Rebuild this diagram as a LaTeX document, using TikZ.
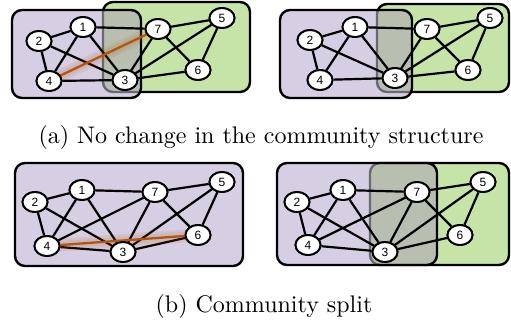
\documentclass[tikz,border=0pt]{standalone}
\usepackage{fontspec}
\newfontfamily\nodefont{Liberation Sans}
\usetikzlibrary{shapes.geometric}
\definecolor{purp}{RGB}{214,206,227}
\definecolor{grn}{RGB}{199,228,168}
\definecolor{ovl}{RGB}{184,191,177}
\definecolor{orng}{RGB}{176,86,18}
\definecolor{hidln}{RGB}{105,105,112}
\begin{document}
\begin{tikzpicture}[x=1pt,y=-1pt,
  vtx/.style={ellipse, draw, line width=1.9pt, fill=white, minimum width=25pt, minimum height=20pt, inner sep=0pt, font=\nodefont\fontsize{12}{12}\selectfont},
  edge/.style={line width=2.2pt},
  boxline/.style={line width=2.4pt, rounded corners=10pt},
  hot/.style={line width=2.3pt, draw=orng},
  glow/.style={line width=#1, draw=orng, opacity=0.10, line cap=round},
  caption/.style={scale=2.4, font=\fontsize{10}{12}\selectfont}]
\useasboundingbox (0,0) rectangle (511,325);

% ---------- (a) left ----------
\filldraw[boxline, fill=grn] (103,2) rectangle (250,92);
\fill[rounded corners=10pt, purp] (12,10) rectangle (141,98);
\begin{scope}
  \clip[rounded corners=10pt] (12,10) rectangle (141,98);
  \fill[rounded corners=10pt, ovl] (103,2) rectangle (250,92);
  \draw[boxline, draw=hidln] (103,2) rectangle (250,92);
\end{scope}
\draw[boxline] (12,10) rectangle (141,98);

\node[vtx] (a1) at (83,27) {1};
\node[vtx] (a2) at (39,41) {2};
\node[vtx] (a4) at (49,81) {4};
\node[vtx] (a3) at (125,80) {3};
\node[vtx] (a7) at (158,29) {7};
\node[vtx] (a5) at (222,18) {5};
\node[vtx] (a6) at (198,70) {6};

% ---------- (a) right ----------
\filldraw[boxline, fill=grn] (377,4) rectangle (509,92);
\fill[rounded corners=10pt, purp] (280,10) rectangle (412,98);
\begin{scope}
  \clip[rounded corners=10pt] (280,10) rectangle (412,98);
  \fill[rounded corners=10pt, ovl] (377,4) rectangle (509,92);
  \draw[boxline, draw=hidln] (377,4) rectangle (509,92);
\end{scope}
\draw[boxline] (280,10) rectangle (412,98);

\node[vtx] (b1) at (355,27) {1};
\node[vtx] (b2) at (310,40) {2};
\node[vtx] (b4) at (320,80) {4};
\node[vtx] (b3) at (395,78) {3};
\node[vtx] (b7) at (427,29) {7};
\node[vtx] (b5) at (490,18) {5};
\node[vtx] (b6) at (468,70) {6};

% ---------- (b) left ----------
\filldraw[boxline, fill=purp] (15,163) rectangle (243,266);

\node[vtx] (c1) at (82,190) {1};
\node[vtx] (c2) at (35,202) {2};
\node[vtx] (c4) at (47,246) {4};
\node[vtx] (c3) at (123,252) {3};
\node[vtx] (c7) at (155,192) {7};
\node[vtx] (c5) at (222,182) {5};
\node[vtx] (c6) at (198,235) {6};

% ---------- (b) right ----------
\filldraw[boxline, fill=grn] (370,163) rectangle (509,265);
\fill[rounded corners=10pt, purp] (277,163) rectangle (437,265);
\begin{scope}
  \clip[rounded corners=10pt] (277,163) rectangle (437,265);
  \fill[rounded corners=10pt, ovl] (370,163) rectangle (509,265);
  \draw[boxline, draw=hidln] (370,163) rectangle (509,265);
\end{scope}
\draw[boxline] (277,163) rectangle (437,265);

\node[vtx] (d1) at (343,190) {1};
\node[vtx] (d2) at (297,202) {2};
\node[vtx] (d4) at (308,245) {4};
\node[vtx] (d3) at (385,252) {3};
\node[vtx] (d7) at (417,192) {7};
\node[vtx] (d5) at (483,182) {5};
\node[vtx] (d6) at (460,235) {6};

% ---------- edges ----------
\foreach \p in {a,b,c,d}{
  \foreach \u/\v in {1/2,1/7,1/4,1/3,2/4,2/3,4/3,7/5,7/6,7/3,5/3,5/6,6/3}{
    \draw[edge] (\p\u) -- (\p\v);
  }
}
\foreach \p in {c,d}{ \draw[edge] (\p4) -- (\p7); }

% highlighted edges with glow
\draw[glow=13pt] (a4) -- (a7);
\draw[glow=8pt] (a4) -- (a7);
\draw[hot] (a4) -- (a7);
\draw[glow=13pt] (c4) -- (c6);
\draw[glow=8pt] (c4) -- (c6);
\draw[hot] (c4) -- (c6);

% redraw nodes on top of edges
\foreach \p in {a,b,c,d}{
  \foreach \k in {1,...,7}{
    \path (\p\k) node[vtx] {\k};
  }
}

% ---------- captions ----------
\node[caption] (capa) at (261,137) {(a) No change in the community structure};
\node[caption] (capb) at (264,306) {(b) Community split};
\end{tikzpicture}
\end{document}
